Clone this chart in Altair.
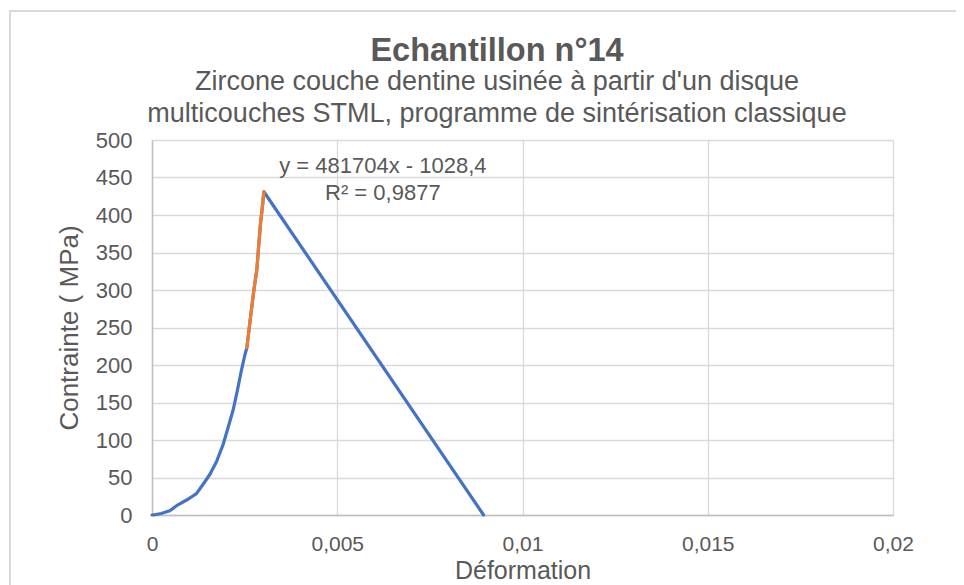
import altair as alt
import pandas as pd

# --- data ---
rise_x = [0, 0.00003, 0.00025, 0.00048, 0.0007, 0.00097, 0.0012, 0.00138, 0.00156,
          0.00174, 0.00192, 0.00205, 0.00219, 0.0023, 0.00241, 0.0025, 0.00256]
rise_y = [0, 0, 2, 5.6, 13.6, 21, 28.5, 41, 54, 71, 94, 116, 140, 165, 192, 212, 223]

linear_x = [0.00256, 0.00266, 0.00275, 0.00283, 0.00287, 0.00293, 0.00299, 0.00302]
linear_y = [223, 264, 300, 327, 353, 389, 416, 431]

rupture_x = [0.00895]
rupture_y = [0]

trend_labels = ["y = 481704x - 1028,4", "R² = 0,9877"]
trend_label_x = [0.00623, 0.00623]
trend_label_y = [466, 430]

x_ticks = [0, 0.005, 0.01, 0.015, 0.02]
y_ticks = [0, 50, 100, 150, 200, 250, 300, 350, 400, 450, 500]

title_text = "Echantillon n°14"
subtitle_lines = ["Zircone couche dentine usinée à partir d'un disque",
                  "multicouches STML, programme  de sintérisation classique"]

# --- tables ---
blue_x = rise_x + linear_x + rupture_x
blue_y = rise_y + linear_y + rupture_y
blue = pd.DataFrame({"x": blue_x, "y": blue_y, "i": range(len(blue_x))})
orange = pd.DataFrame({"x": linear_x, "y": linear_y, "i": range(len(linear_x))})
labels = pd.DataFrame({"x": trend_label_x, "y": trend_label_y, "t": trend_labels})

GREY = "#595959"
FONT = "Liberation Sans"

x_enc = alt.X("x:Q", scale=alt.Scale(domain=[0, 0.02], nice=False),
              axis=alt.Axis(values=x_ticks, title="Déformation",
                            labelExpr="replace(format(datum.value, '~g'), '.', ',')",
                            labelPadding=18, titlePadding=4, labelFlush=False,
                            labelOverlap=False, labelFontSize=21, titleFontSize=25))
y_enc = alt.Y("y:Q", scale=alt.Scale(domain=[0, 500], nice=False),
              axis=alt.Axis(values=y_ticks, title="Contrainte ( MPa)",
                            labelPadding=20, titlePadding=13, labelFlush=False,
                            labelOverlap=False, labelFontSize=22, titleFontSize=26))

frame = alt.Chart(alt.Data(values=[{}])).mark_rect(
    fill="transparent", stroke="#d9d9d9", strokeWidth=2
).encode(x=alt.value(-142), x2=alt.value(900), y=alt.value(-129), y2=alt.value(500))

title_mark = alt.Chart(alt.Data(values=[{"t": title_text}])).mark_text(
    font=FONT, fontSize=32.5, fontWeight="bold", color=GREY,
    align="center", baseline="alphabetic"
).encode(x=alt.value(345), y=alt.value(-79), text="t:N")

sub1_mark = alt.Chart(alt.Data(values=[{"t": subtitle_lines[0]}])).mark_text(
    font=FONT, fontSize=27, color=GREY, align="center", baseline="alphabetic"
).encode(x=alt.value(345), y=alt.value(-50), text="t:N")

sub2_mark = alt.Chart(alt.Data(values=[{"t": subtitle_lines[1]}])).mark_text(
    font=FONT, fontSize=27, color=GREY, align="center", baseline="alphabetic"
).encode(x=alt.value(345), y=alt.value(-18), text="t:N")

blue_line = alt.Chart(blue).mark_line(
    color="#4472C4", strokeWidth=3.2, strokeCap="round", strokeJoin="round"
).encode(x=x_enc, y=y_enc, order="i:Q")

orange_line = alt.Chart(orange).mark_line(
    color="#ED7D31", strokeWidth=3.2, strokeCap="round", strokeJoin="round"
).encode(x=x_enc, y=y_enc, order="i:Q")

text = alt.Chart(labels).mark_text(
    font=FONT, fontSize=22, color=GREY, align="center", baseline="middle"
).encode(x=x_enc, y=y_enc, text="t:N")

chart = alt.layer(frame, blue_line, orange_line, text,
                  title_mark, sub1_mark, sub2_mark).properties(
    width=741, height=375,
    background="white",
    autosize=alt.AutoSizeParams(type="none"),
    padding={"left": 144, "top": 132, "right": 63, "bottom": 70},
).configure_view(stroke=None).configure_axis(
    grid=True, gridColor="#d9d9d9", gridWidth=1.3,
    domainColor="#bfbfbf", domainWidth=1.5,
    ticks=False, tickSize=0,
    labelFont=FONT, labelColor=GREY,
    titleFont=FONT, titleColor=GREY, titleFontWeight="normal"
)

chart.save("out.html", embed_options={"renderer": "svg", "actions": False})
